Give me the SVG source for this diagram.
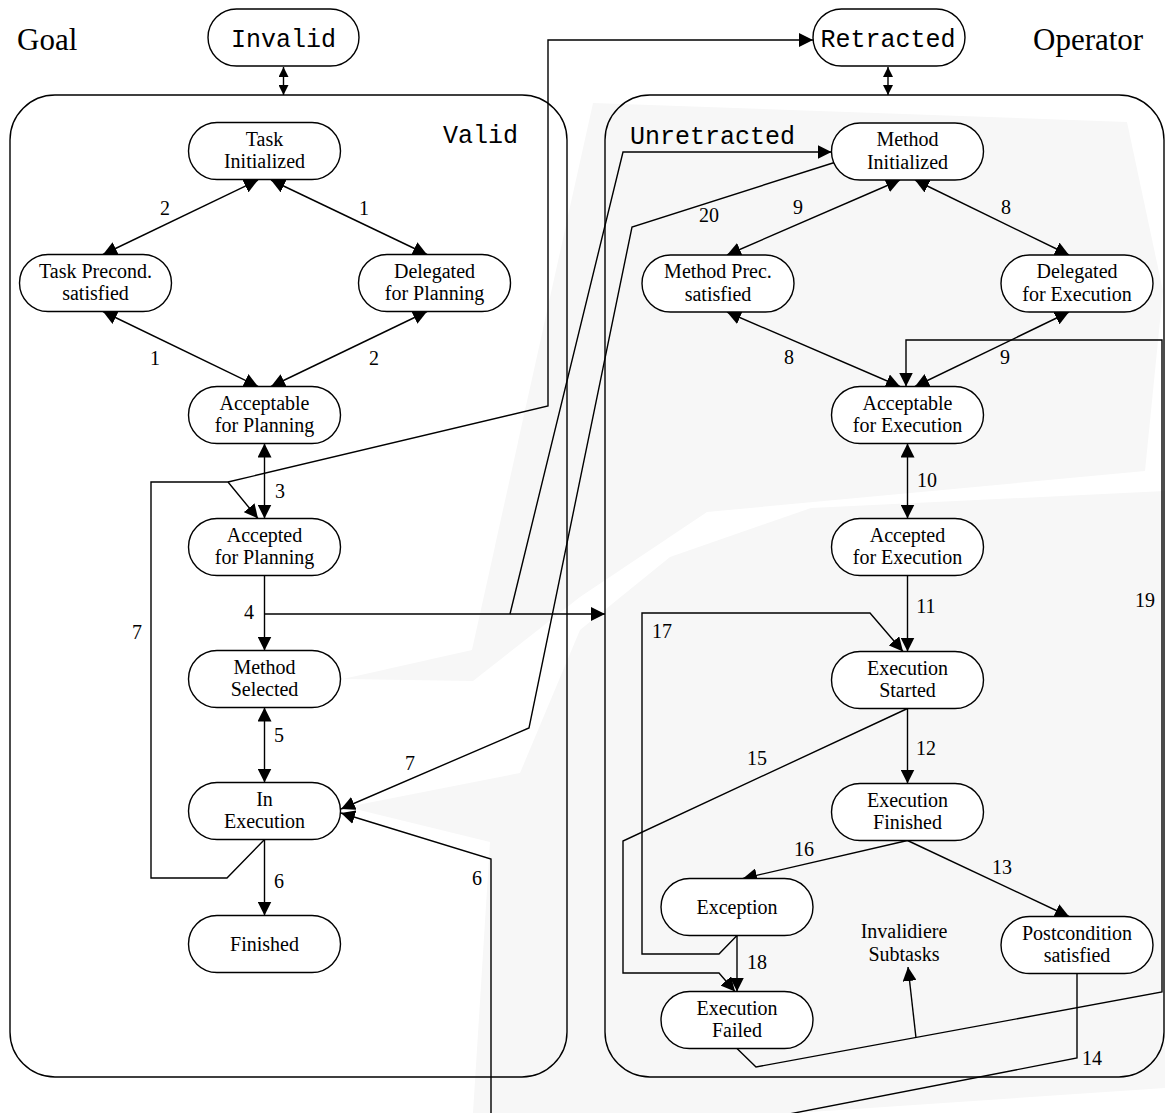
<svg xmlns="http://www.w3.org/2000/svg" width="1165" height="1113" viewBox="0 0 1165 1113">
<style>
.bg{fill:#f7f7f7;stroke:none}
.box{fill:none;stroke:#000;stroke-width:1.4}
.node rect{fill:#fff;stroke:#000;stroke-width:1.4}
.node text{font-family:"Liberation Serif",serif;font-size:20px;text-anchor:middle}
.node text.mono,.mono{font-family:"Liberation Mono",monospace;font-size:25px}
.title{font-family:"Liberation Serif",serif;font-size:31px}
.lbl{font-family:"Liberation Serif",serif;font-size:20px;text-anchor:middle}
#connectors path{fill:none;stroke:#000;stroke-width:1.4}
#connectors path.a{marker-end:url(#ah)}
#connectors path.d{marker-start:url(#ah);marker-end:url(#ah)}
#connectors path.s{marker-start:url(#sh);marker-end:url(#sh)}
</style>
<defs>
<marker id="ah" viewBox="0 0 14 14" refX="14" refY="7" markerWidth="14" markerHeight="14" markerUnits="userSpaceOnUse" orient="auto-start-reverse"><path d="M0,0 L14,7 L0,14 z" fill="#000"/></marker>
<marker id="sh" viewBox="0 0 10 10" refX="10" refY="5" markerWidth="10" markerHeight="10" markerUnits="userSpaceOnUse" orient="auto-start-reverse"><path d="M0,0 L10,5 L0,10 z" fill="#000"/></marker>
</defs>

<g id="background">
<polygon class="bg" points="593,103 1127,122 1163,291 1145,471 707,512 580,597 473,681 343,679 472,650"/>
<polygon class="bg" points="1165,491 811,508 670,557 580,630 520,773 347,807 490,842 473,1113 795,1113 1165,1088"/>
</g>

<g id="containers">
<rect id="valid" class="box" x="10" y="95" width="557" height="982" rx="45" ry="45"/>
<rect id="unretracted" class="box" x="605" y="95" width="559" height="982" rx="45" ry="45"/>
<text class="mono" x="443" y="143">Valid</text>
<text class="mono" x="630" y="144">Unretracted</text>
<text class="title" x="17" y="50">Goal</text>
<text class="title" x="1033" y="50">Operator</text>
</g>

<g id="connectors">
<path class="s" d="M283.5,67 L283.5,95"/>
<path class="s" d="M888,67 L888,95"/>
<path class="d" d="M258,180 L103,254.5"/>
<path class="d" d="M271,180 L427,254.5"/>
<path class="d" d="M103,311.5 L258,386.5"/>
<path class="d" d="M427,311.5 L271,386.5"/>
<path class="d" d="M264.5,443.5 L264.5,518.5"/>
<path class="a" d="M264.5,575.5 L264.5,650.5"/>
<path class="a" d="M264.5,614 L605,614"/>
<path class="d" d="M264.5,707.5 L264.5,782.5"/>
<path class="a" d="M264.5,839.5 L264.5,915.5"/>
<path class="a" d="M264.5,839.5 L227,878 L151,878 L151,482 L228,482 L258,518.5"/>
<path class="a" d="M228,482 L548,406 L548,40 L813,40"/>
<path class="a" d="M510,614 L623,152 L831.5,152"/>
<path class="a" d="M836,162 L632,227 L529,728 L341,809"/>
<path class="a" d="M1077,973.5 L1077,1058 L491,1172 L491,859 L341,813"/>
<path class="d" d="M900,180 L727,255"/>
<path class="d" d="M915,180 L1069,255"/>
<path class="d" d="M727,312 L900,386.5"/>
<path class="d" d="M1069,312 L915,386.5"/>
<path class="d" d="M907.5,443.5 L907.5,518.5"/>
<path class="a" d="M907.5,575.5 L907.5,651.5"/>
<path class="a" d="M907.5,708.5 L907.5,783.5"/>
<path class="a" d="M737,935.5 L719,954 L642,954 L642,613 L870,613 L903,651.5"/>
<path class="a" d="M907.5,708.5 L623,841 L623,973 L719,973 L735,991.5"/>
<path class="a" d="M907.5,840.5 L743,878.5"/>
<path class="a" d="M907.5,840.5 L1069,916.5"/>
<path class="a" d="M737,935.5 L737,991.5"/>
<path class="a" d="M737,1048.5 L756,1067 L1162,992 L1162,340 L906,340 L906,386.5"/>
<path class="a" d="M916,1038 L908,967"/>
</g>

<g id="labels">
<text class="lbl" x="165" y="215">2</text>
<text class="lbl" x="364" y="215">1</text>
<text class="lbl" x="155" y="365">1</text>
<text class="lbl" x="374" y="365">2</text>
<text class="lbl" x="280" y="498">3</text>
<text class="lbl" x="249" y="619">4</text>
<text class="lbl" x="279" y="742">5</text>
<text class="lbl" x="279" y="888">6</text>
<text class="lbl" x="137" y="639">7</text>
<text class="lbl" x="410" y="770">7</text>
<text class="lbl" x="477" y="885">6</text>
<text class="lbl" x="709" y="222">20</text>
<text class="lbl" x="798" y="214">9</text>
<text class="lbl" x="1006" y="214">8</text>
<text class="lbl" x="789" y="364">8</text>
<text class="lbl" x="1005" y="364">9</text>
<text class="lbl" x="927" y="487">10</text>
<text class="lbl" x="926" y="613">11</text>
<text class="lbl" x="662" y="638">17</text>
<text class="lbl" x="926" y="755">12</text>
<text class="lbl" x="757" y="765">15</text>
<text class="lbl" x="804" y="856">16</text>
<text class="lbl" x="1002" y="874">13</text>
<text class="lbl" x="757" y="969">18</text>
<text class="lbl" x="1145" y="607">19</text>
<text class="lbl" x="1092" y="1065">14</text>
<text class="lbl" x="904" y="938">Invalidiere</text>
<text class="lbl" x="904" y="961">Subtasks</text>
</g>

<g id="n_invalid" class="node"><rect x="208" y="9" width="151" height="57" rx="28.5"/><text class="mono" x="283.5" y="47">Invalid</text></g>
<g id="n_retracted" class="node"><rect x="813" y="9" width="152" height="57" rx="28.5"/><text class="mono" x="888" y="47">Retracted</text></g>

<g id="n_task_init" class="node"><rect x="188.5" y="122.5" width="152" height="57" rx="28.5"/><text x="264.5" y="145.5">Task</text><text x="264.5" y="168">Initialized</text></g>
<g id="n_task_prec" class="node"><rect x="19.5" y="254.5" width="152" height="57" rx="28.5"/><text x="95.5" y="277.5">Task Precond.</text><text x="95.5" y="300">satisfied</text></g>
<g id="n_deleg_plan" class="node"><rect x="358.5" y="254.5" width="152" height="57" rx="28.5"/><text x="434.5" y="277.5">Delegated</text><text x="434.5" y="300">for Planning</text></g>
<g id="n_acceptable_plan" class="node"><rect x="188.5" y="386.5" width="152" height="57" rx="28.5"/><text x="264.5" y="409.5">Acceptable</text><text x="264.5" y="432">for Planning</text></g>
<g id="n_accepted_plan" class="node"><rect x="188.5" y="518.5" width="152" height="57" rx="28.5"/><text x="264.5" y="541.5">Accepted</text><text x="264.5" y="564">for Planning</text></g>
<g id="n_method_sel" class="node"><rect x="188.5" y="650.5" width="152" height="57" rx="28.5"/><text x="264.5" y="673.5">Method</text><text x="264.5" y="696">Selected</text></g>
<g id="n_in_exec" class="node"><rect x="188.5" y="782.5" width="152" height="57" rx="28.5"/><text x="264.5" y="805.5">In</text><text x="264.5" y="828">Execution</text></g>
<g id="n_finished" class="node"><rect x="188.5" y="915.5" width="152" height="57" rx="28.5"/><text x="264.5" y="951">Finished</text></g>

<g id="n_method_init" class="node"><rect x="831.5" y="123" width="152" height="57" rx="28.5"/><text x="907.5" y="146">Method</text><text x="907.5" y="168.5">Initialized</text></g>
<g id="n_method_prec" class="node"><rect x="642" y="255" width="152" height="57" rx="28.5"/><text x="718" y="278">Method Prec.</text><text x="718" y="300.5">satisfied</text></g>
<g id="n_deleg_exec" class="node"><rect x="1001" y="255" width="152" height="57" rx="28.5"/><text x="1077" y="278">Delegated</text><text x="1077" y="300.5">for Execution</text></g>
<g id="n_acceptable_exec" class="node"><rect x="831.5" y="386.5" width="152" height="57" rx="28.5"/><text x="907.5" y="409.5">Acceptable</text><text x="907.5" y="432">for Execution</text></g>
<g id="n_accepted_exec" class="node"><rect x="831.5" y="518.5" width="152" height="57" rx="28.5"/><text x="907.5" y="541.5">Accepted</text><text x="907.5" y="564">for Execution</text></g>
<g id="n_exec_started" class="node"><rect x="831.5" y="651.5" width="152" height="57" rx="28.5"/><text x="907.5" y="674.5">Execution</text><text x="907.5" y="697">Started</text></g>
<g id="n_exec_finished" class="node"><rect x="831.5" y="783.5" width="152" height="57" rx="28.5"/><text x="907.5" y="806.5">Execution</text><text x="907.5" y="829">Finished</text></g>
<g id="n_exception" class="node"><rect x="661" y="878.5" width="152" height="57" rx="28.5"/><text x="737" y="914">Exception</text></g>
<g id="n_postcond" class="node"><rect x="1001" y="916.5" width="152" height="57" rx="28.5"/><text x="1077" y="939.5">Postcondition</text><text x="1077" y="962">satisfied</text></g>
<g id="n_exec_failed" class="node"><rect x="661" y="991.5" width="152" height="57" rx="28.5"/><text x="737" y="1014.5">Execution</text><text x="737" y="1037">Failed</text></g>
</svg>
